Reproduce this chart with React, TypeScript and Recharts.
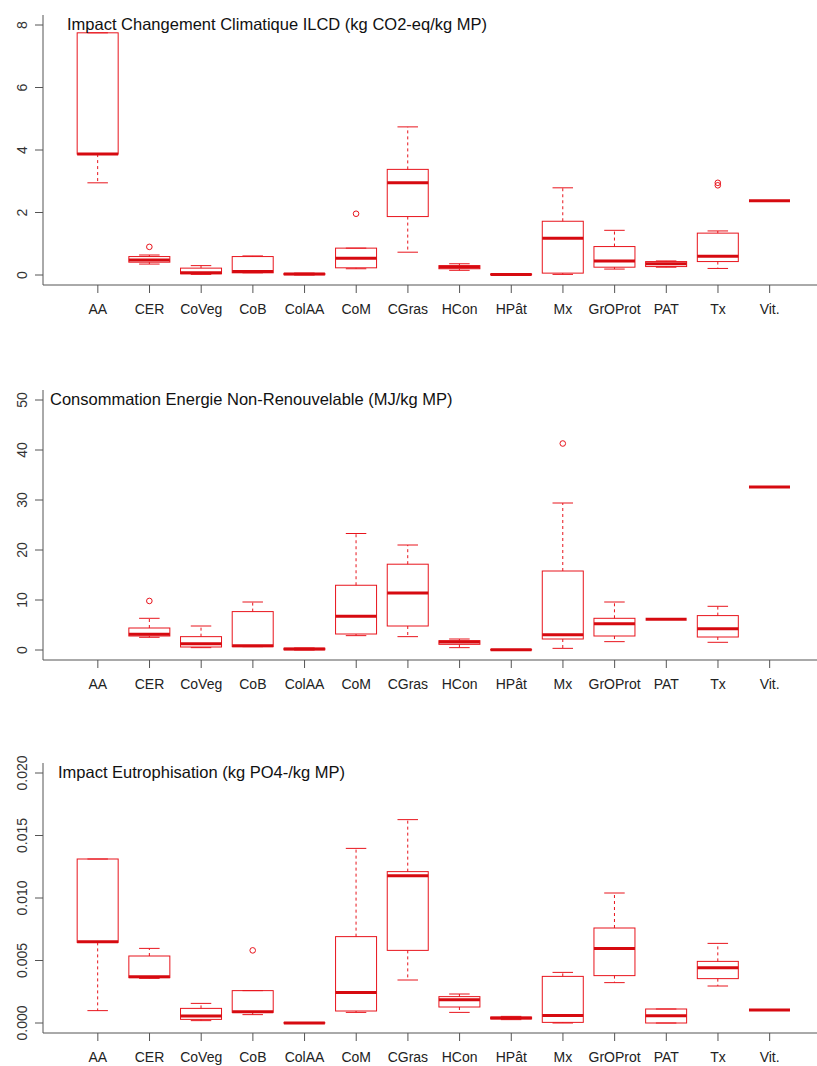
import { ComposedChart, Bar, XAxis, YAxis } from "recharts"

const categories = ["AA", "CER", "CoVeg", "CoB", "ColAA", "CoM", "CGras", "HCon", "HPât", "Mx", "GrOProt", "PAT", "Tx", "Vit."]

type Box = [number, number, number, number, number] | null

// [min, q1, median, q3, max] per category
const co2Boxes: Box[] = [
  [2.95, 3.87, 3.87, 7.75, 7.75],
  [0.35, 0.41, 0.48, 0.59, 0.64],
  [0.02, 0.04, 0.07, 0.22, 0.3],
  [0.07, 0.07, 0.11, 0.59, 0.61],
  [0.0, 0.01, 0.03, 0.05, 0.06],
  [0.2, 0.23, 0.54, 0.86, 0.86],
  [0.73, 1.87, 2.95, 3.38, 4.74],
  [0.15, 0.2, 0.26, 0.3, 0.36],
  [0.0, 0.01, 0.02, 0.03, 0.04],
  [0.02, 0.06, 1.18, 1.72, 2.79],
  [0.19, 0.25, 0.45, 0.91, 1.43],
  [0.25, 0.27, 0.36, 0.43, 0.45],
  [0.21, 0.43, 0.6, 1.34, 1.41],
  [2.38, 2.38, 2.38, 2.38, 2.38],
]
const co2Outliers: number[][] = [[], [0.9], [], [], [], [1.96], [], [], [], [], [], [], [2.87, 2.95], []]

const energyBoxes: Box[] = [
  null,
  [2.54, 2.8, 3.14, 4.4, 6.34],
  [0.47, 0.6, 1.27, 2.67, 4.8],
  [0.67, 0.67, 0.87, 7.68, 9.6],
  [0.0, 0.05, 0.2, 0.35, 0.4],
  [2.87, 3.2, 6.74, 12.95, 23.3],
  [2.67, 4.8, 11.4, 17.16, 21.0],
  [0.47, 1.13, 1.6, 1.87, 2.2],
  [0.0, 0.02, 0.05, 0.08, 0.1],
  [0.33, 2.2, 3.07, 15.8, 29.4],
  [1.67, 2.8, 5.27, 6.34, 9.6],
  [6.14, 6.14, 6.14, 6.14, 6.14],
  [1.54, 2.6, 4.27, 6.88, 8.74],
  [32.6, 32.6, 32.6, 32.6, 32.6],
]
const energyOutliers: number[][] = [[], [9.81], [], [], [], [], [], [], [], [41.3], [], [], [], []]

const eutroBoxes: Box[] = [
  [0.00099, 0.00645, 0.0065, 0.01312, 0.01312],
  [0.00357, 0.00363, 0.00371, 0.00536, 0.00597],
  [0.00019, 0.00029, 0.00056, 0.00117, 0.00157],
  [0.00067, 0.00085, 0.00091, 0.00259, 0.00259],
  [0.0, 0.0, 0.00001, 0.00002, 0.00003],
  [0.00085, 0.00096, 0.00245, 0.00691, 0.01397],
  [0.00344, 0.00581, 0.01179, 0.01211, 0.01627],
  [0.00085, 0.00128, 0.00187, 0.00211, 0.00232],
  [0.00027, 0.00033, 0.0004, 0.00047, 0.00053],
  [0.0, 0.00005, 0.00061, 0.00373, 0.00405],
  [0.00323, 0.00379, 0.00597, 0.0076, 0.0104],
  [0.0, 0.0, 0.00059, 0.00112, 0.00112],
  [0.00296, 0.00355, 0.00443, 0.00493, 0.00637],
  [0.00104, 0.00104, 0.00104, 0.00104, 0.00104],
]
const eutroOutliers: number[][] = [[], [], [], [0.00581], [], [], [], [], [], [], [], [], [], []]

const co2Ticks = [0, 2, 4, 6, 8]
const energyTicks = [0, 10, 20, 30, 40, 50]
const eutroTicks = [0, 0.005, 0.01, 0.015, 0.02]

const RED = "#e8141c"
const FRAME = "#555"
const FONT = "'Liberation Sans', Arial, sans-serif"

function BoxShape(props: any) {
  const { x, y, width, height, payload } = props
  const b: Box = payload?.box
  if (!b || x == null || y == null) return null
  const [mn, q1, md, q3, mx] = b
  const top = Math.min(y, y + height)
  const bottom = Math.max(y, y + height)
  const span = mx - mn
  // map values between the bar's ends (bar spans min..max on the y scale)
  const py = (v: number) => (span === 0 ? top : top + ((bottom - top) * (mx - v)) / span)
  const cx = x + width / 2
  const cap = width / 4
  const out: number[] = payload.out || []
  return (
    <g>
      {mx > q3 && <line x1={cx} x2={cx} y1={py(q3)} y2={py(mx)} stroke={RED} strokeDasharray="3 3" />}
      {q1 > mn && <line x1={cx} x2={cx} y1={py(q1)} y2={py(mn)} stroke={RED} strokeDasharray="3 3" />}
      <line x1={cx - cap} x2={cx + cap} y1={py(mx)} y2={py(mx)} stroke={RED} />
      <line x1={cx - cap} x2={cx + cap} y1={py(mn)} y2={py(mn)} stroke={RED} />
      <rect x={x} y={py(q3)} width={width} height={py(q1) - py(q3)} fill="none" stroke={RED} />
      <line x1={x} x2={x + width} y1={py(md)} y2={py(md)} stroke="#d60a10" strokeWidth={3} />
      {out.map((v, i) => (
        <circle key={i} cx={cx} cy={py(v)} r={2.8} fill="none" stroke={RED} />
      ))}
    </g>
  )
}

function XTick(props: any) {
  const { x, y, payload } = props
  return (
    <text x={x} y={y} dy={21} textAnchor="middle" fontSize={14} fill="#222" fontFamily={FONT}>
      {payload.value}
    </text>
  )
}

function makeYTick(fmt: (v: number) => string) {
  return function YTick(props: any) {
    const { y, payload } = props
    return (
      <text
        x={27}
        y={y}
        textAnchor="middle"
        fontSize={14}
        fill="#333"
        fontFamily={FONT}
        transform={`rotate(-90 27 ${y})`}
      >
        {fmt(payload.value)}
      </text>
    )
  }
}

interface PanelProps {
  top: number
  title: string
  titleX: number
  boxes: Box[]
  outliers: number[][]
  ticks: number[]
  domain: [number, number]
  fmt: (v: number) => string
}

function Panel({ top, title, titleX, boxes, outliers, ticks, domain, fmt }: PanelProps) {
  const data = categories.map((name, i) => ({ name, box: boxes[i], out: outliers[i] }))
  const YTick = makeYTick(fmt)
  return (
    <div style={{ position: "absolute", left: 0, top }}>
      <ComposedChart width={840} height={320} data={data} margin={{ top: 15, right: 15.5, bottom: 0, left: 0 }}>
        <XAxis
          dataKey="name"
          interval={0}
          padding={{ left: 29, right: 29 }}
          height={35}
          tickSize={8}
          tickMargin={0}
          tickLine={{ stroke: FRAME }}
          axisLine={{ stroke: FRAME }}
          tick={<XTick />}
        />
        <XAxis xAxisId="top" dataKey="name" orientation="top" height={0} tick={false} tickLine={false} axisLine={{ stroke: FRAME }} />
        <YAxis
          type="number"
          domain={domain}
          ticks={ticks}
          allowDataOverflow
          width={43}
          tickSize={8}
          tickLine={{ stroke: FRAME }}
          axisLine={{ stroke: FRAME }}
          tick={<YTick />}
        />
        <Bar
          dataKey={(d: any) => (d.box ? [d.box[0], d.box[4]] : null)}
          shape={<BoxShape />}
          isAnimationActive={false}
        />
      </ComposedChart>
      <div
        style={{
          position: "absolute",
          left: titleX,
          top: 15,
          fontFamily: FONT,
          fontSize: 16.5,
          color: "#111",
          whiteSpace: "nowrap",
        }}
      >
        {title}
      </div>
    </div>
  )
}

export default function App() {
  return (
    <div style={{ position: "absolute", left: 0, top: 0, width: 817, height: 1066, overflow: "hidden", background: "#fff" }}>
      <Panel
        top={0}
        title="Impact Changement Climatique ILCD (kg CO2-eq/kg MP)"
        titleX={67}
        boxes={co2Boxes}
        outliers={co2Outliers}
        ticks={co2Ticks}
        domain={[-0.32, 8.32]}
        fmt={(v) => String(v)}
      />
      <Panel
        top={375}
        title="Consommation Energie Non-Renouvelable (MJ/kg MP)"
        titleX={50}
        boxes={energyBoxes}
        outliers={energyOutliers}
        ticks={energyTicks}
        domain={[-2, 52]}
        fmt={(v) => String(v)}
      />
      <Panel
        top={748}
        title="Impact Eutrophisation (kg PO4-/kg MP)"
        titleX={58}
        boxes={eutroBoxes}
        outliers={eutroOutliers}
        ticks={eutroTicks}
        domain={[-0.0008, 0.0208]}
        fmt={(v) => v.toFixed(3)}
      />
    </div>
  )
}
